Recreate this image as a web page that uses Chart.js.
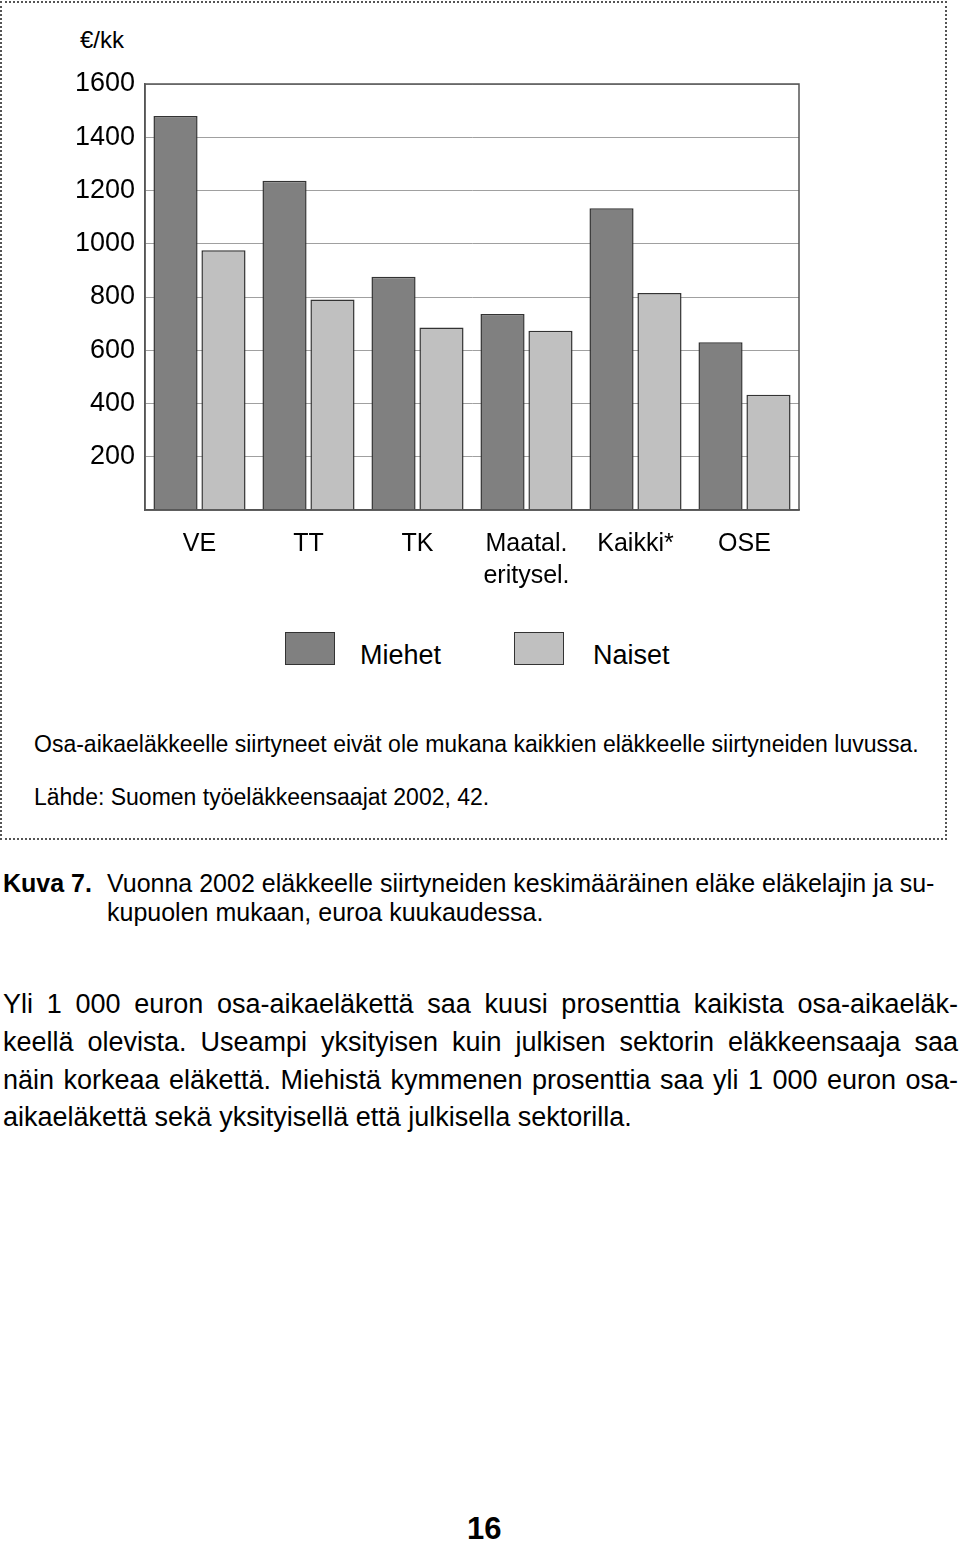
<!DOCTYPE html>
<html>
<head>
<meta charset="utf-8">
<script src="https://cdn.jsdelivr.net/npm/chart.js@4.4.1/dist/chart.umd.min.js"></script>
<style>
  html, body { margin: 0; padding: 0; background: #fff; }
  body { width: 960px; height: 1543px; position: relative; font-family: "Liberation Sans", Arial, sans-serif; color: #000; overflow: hidden; }
  .abs { position: absolute; white-space: nowrap; }
  #frame { position: absolute; left: 0; top: 1px; width: 943px; height: 835px; border: 2px dotted #555; }
  #chartWrap { position: absolute; left: 0; top: 0; width: 800px; height: 600px; }
  .legBox { position: absolute; width: 50px; height: 33px; border: 1.5px solid #333; box-sizing: border-box; }
  .just { position: absolute; left: 3px; width: 955px; text-align: justify; text-align-last: justify; white-space: nowrap; font-size: 27px; line-height: 32px; }
</style>
</head>
<body>
<div id="frame"></div>
<div class="abs" style="left:80px; top:26px; font-size:24px; line-height:28px;">€/kk</div>
<div id="chartWrap"><canvas id="kuvaChart" width="800" height="600"></canvas></div>

<div class="legBox" id="legM" style="left:285px; top:632px;"></div>
<div class="abs" style="left:360px; top:640px; font-size:27px; line-height:30px;">Miehet</div>
<div class="legBox" id="legN" style="left:514px; top:632px;"></div>
<div class="abs" style="left:593px; top:640px; font-size:27px; line-height:30px;">Naiset</div>

<div class="abs" style="left:34px; top:730px; font-size:23px; line-height:28px;">Osa-aikaeläkkeelle siirtyneet eivät ole mukana kaikkien eläkkeelle siirtyneiden luvussa.</div>
<div class="abs" style="left:34px; top:783px; font-size:23px; line-height:28px;">Lähde: Suomen työeläkkeensaajat 2002, 42.</div>

<div class="abs" style="left:3px; top:868px; font-size:25px; line-height:30px; font-weight:bold;">Kuva 7.</div>
<div class="abs" style="left:107px; top:868px; font-size:25px; line-height:30px;">Vuonna 2002 eläkkeelle siirtyneiden keskimääräinen eläke eläkelajin ja su-</div>
<div class="abs" style="left:107px; top:897px; font-size:25px; line-height:30px;">kupuolen mukaan, euroa kuukaudessa.</div>

<div class="just" style="top:988px;">Yli 1 000 euron osa-aikaeläkettä saa kuusi prosenttia kaikista osa-aikaeläk-</div>
<div class="just" style="top:1026px;">keellä olevista. Useampi yksityisen kuin julkisen sektorin eläkkeensaaja saa</div>
<div class="just" style="top:1064px;">näin korkeaa eläkettä. Miehistä kymmenen prosenttia saa yli 1 000 euron osa-</div>
<div class="abs" style="left:3px; top:1101px; font-size:27px; line-height:32px;">aikaeläkettä sekä yksityisellä että julkisella sektorilla.</div>

<div class="abs" style="left:467px; top:1512px; font-size:31px; line-height:34px; font-weight:bold;">16</div>

<script>
// kuukausieläke (€/kk) eläkelajin ja sukupuolen mukaan
const categories = ["VE", "TT", "TK", ["Maatal.", "eritysel."], "Kaikki*", "OSE"];
const miehet = [1480, 1237, 876, 736, 1133, 630];
const naiset = [976, 791, 685, 673, 815, 433];
const yTicks = [0, 200, 400, 600, 800, 1000, 1200, 1400, 1600];

const darkGrey = "#808080";
const lightGrey = "#c0c0c0";
const edge = "#333333";

document.getElementById("legM").style.background = darkGrey;
document.getElementById("legN").style.background = lightGrey;

// kehys kaavioalueen ympäri
const frameBox = {
  id: "frameBox",
  afterDraw(chart) {
    const { ctx, chartArea: a } = chart;
    ctx.save();
    ctx.strokeStyle = "#555";
    ctx.lineWidth = 1.5;
    ctx.strokeRect(a.left, a.top, a.right - a.left, a.bottom - a.top);
    ctx.restore();
  },
};

const kuvaChart = new Chart(document.getElementById("kuvaChart"), {
  type: "bar",
  data: {
    labels: categories,
    datasets: [
      {
        label: "Miehet",
        data: miehet,
        backgroundColor: darkGrey,
        borderColor: edge,
        borderWidth: 1.5,
        categoryPercentage: 0.88,
        barPercentage: 0.92,
      },
      {
        label: "Naiset",
        data: naiset,
        backgroundColor: lightGrey,
        borderColor: edge,
        borderWidth: 1.5,
        categoryPercentage: 0.88,
        barPercentage: 0.92,
      },
    ],
  },
  options: {
    responsive: false,
    animation: false,
    layout: { padding: { top: 84, right: 1, left: 0, bottom: 0 } },
    plugins: {
      legend: { display: false },
      tooltip: { enabled: false },
    },
    scales: {
      x: {
        grid: { display: false },
        border: { color: "#555", width: 1.5 },
        ticks: {
          color: "#000",
          padding: 10,
          maxRotation: 0,
          font: { family: "'Liberation Sans', Arial, sans-serif", size: 25, lineHeight: 1.28 },
        },
        afterFit: (scale) => { scale.height = 90; },
      },
      y: {
        min: yTicks[0],
        max: yTicks[yTicks.length - 1],
        afterBuildTicks: (scale) => { scale.ticks = yTicks.map((v) => ({ value: v })); },
        grid: { color: "#a0a0a0", lineWidth: 1, drawTicks: false },
        border: { color: "#555", width: 1.5 },
        ticks: {
          color: "#000",
          padding: 10,
          font: { family: "'Liberation Sans', Arial, sans-serif", size: 27 },
          callback: (v) => (v === 0 ? "" : v),
        },
        afterFit: (scale) => { scale.width = 145; },
      },
    },
  },
  plugins: [frameBox],
});
</script>
</body>
</html>
